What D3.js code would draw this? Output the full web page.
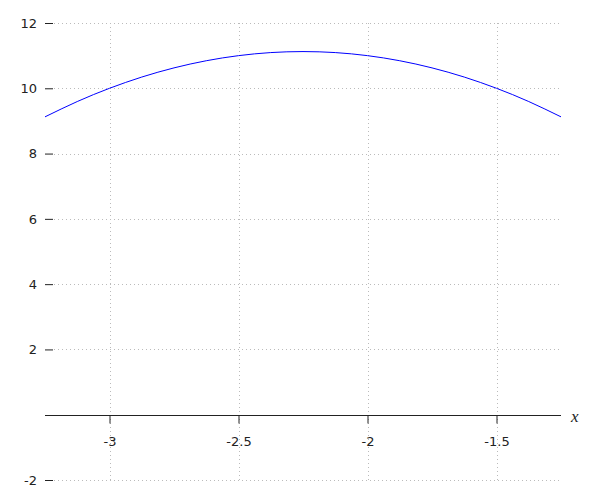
<!DOCTYPE html>
<html>
<head>
<meta charset="utf-8">
<script src="https://d3js.org/d3.v7.min.js"></script>
<style>
  body { margin: 0; background: #fff; }
  text { font-family: "DejaVu Sans", sans-serif; font-size: 13px; fill: #222; }
  .grid line { stroke: #bbb; stroke-width: 1; stroke-dasharray: 1,3; }
</style>
</head>
<body>
<svg id="chart" width="600" height="500"></svg>
<script>
// curve points
var xs = [-3.25, -3.125, -3, -2.875, -2.75, -2.625, -2.5, -2.375, -2.25,
          -2.125, -2, -1.875, -1.75, -1.625, -1.5, -1.375, -1.25];
var ys = [9.125, 9.594, 10.0, 10.344, 10.625, 10.844, 11.0, 11.094, 11.125,
          11.094, 11.0, 10.844, 10.625, 10.344, 10.0, 9.594, 9.125];
var xTicks = [-3, -2.5, -2, -1.5];
var yTicks = [-2, 2, 4, 6, 8, 10, 12];

var svg = d3.select("#chart");
var mLeft = 45, mRight = 561, mTop = 23, mBottom = 480;

var x = d3.scaleLinear().domain([-3.25, -1.25]).range([mLeft, mRight]);
var y = d3.scaleLinear().domain([-2, 12]).range([mBottom, mTop]);

// grid
var grid = svg.append("g").attr("class", "grid");
grid.selectAll(".vg").data(xTicks).enter().append("line")
  .attr("x1", d => Math.round(x(d)) + 0.5).attr("x2", d => Math.round(x(d)) + 0.5)
  .attr("y1", mTop).attr("y2", mBottom);
grid.selectAll(".hg").data(yTicks).enter().append("line")
  .attr("x1", mLeft + 9).attr("x2", mRight)
  .attr("y1", d => Math.round(y(d)) + 0.5).attr("y2", d => Math.round(y(d)) + 0.5);

// y ticks (no axis line)
var yAxis = svg.append("g").attr("transform", "translate(" + (mLeft + 8) + ",0)")
  .call(d3.axisLeft(y).tickValues(yTicks).tickSize(8).tickPadding(8)
    .tickFormat(d => String(d)));
yAxis.select(".domain").remove();
yAxis.selectAll("line").attr("stroke", "#222");
yAxis.selectAll("text").attr("font-size", 13).attr("fill", "#222")
  .attr("font-family", "DejaVu Sans, sans-serif");

// x axis at y = 0
var xAxis = svg.append("g").attr("transform", "translate(0," + (Math.round(y(0)) + 0.5) + ")")
  .call(d3.axisBottom(x).tickValues(xTicks).tickSize(8).tickPadding(13)
    .tickFormat(d => String(d)));
xAxis.select(".domain").attr("d", "M" + mLeft + ",0H" + mRight).attr("stroke", "#222");
xAxis.selectAll("line").attr("stroke", "#222");
xAxis.selectAll("text").attr("font-size", 13).attr("fill", "#222")
  .attr("font-family", "DejaVu Sans, sans-serif");

svg.append("text")
  .attr("x", 571).attr("y", 422)
  .style("font-family", "'Liberation Serif', serif").style("font-style", "italic")
  .style("font-size", "17px")
  .text("x");

// curve
var pts = xs.map((d, i) => [d, ys[i]]);
svg.append("path")
  .datum(pts)
  .attr("fill", "none")
  .attr("stroke", "#0000ff")
  .attr("stroke-width", 1)
  .attr("d", d3.line().x(d => x(d[0])).y(d => y(d[1])).curve(d3.curveNatural));
</script>
</body>
</html>
